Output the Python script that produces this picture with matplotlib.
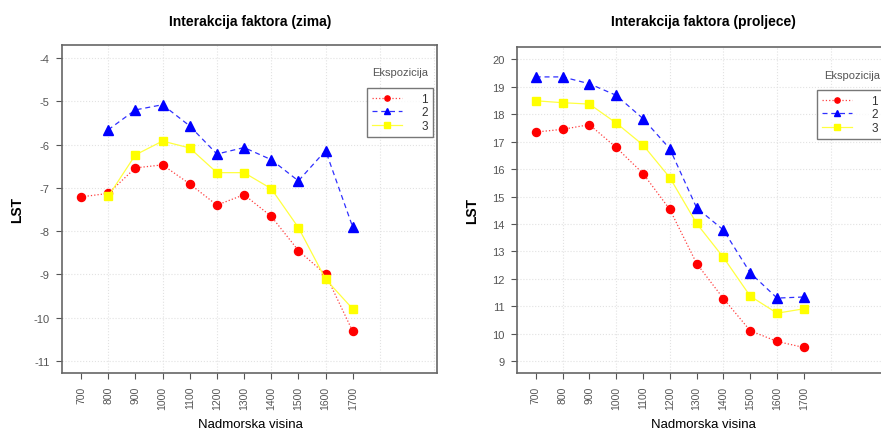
import matplotlib.pyplot as plt

plt.rcParams['font.family'] = ['Liberation Sans', 'DejaVu Sans']

visina = [700, 800, 900, 1000, 1100, 1200, 1300, 1400, 1500, 1600, 1700]

# zima
zima_1 = [-7.21, -7.13, -6.54, -6.47, -6.91, -7.40, -7.16, -7.66, -8.45, -9.00, -10.32]
zima_2 = [None, -5.66, -5.20, -5.08, -5.57, -6.22, -6.07, -6.35, -6.84, -6.14, -7.91]
zima_3 = [None, -7.20, -6.24, -5.92, -6.08, -6.65, -6.65, -7.02, -7.92, -9.11, -9.80]

# proljece
proljece_1 = [17.35, 17.45, 17.62, 16.79, 15.84, 14.53, 12.56, 11.28, 10.11, 9.72, 9.50]
proljece_2 = [19.36, 19.36, 19.11, 18.69, 17.84, 16.74, 14.59, 13.78, 12.22, 11.30, 11.34]
proljece_3 = [18.49, 18.42, 18.37, 17.68, 16.88, 15.69, 14.02, 12.78, 11.37, 10.75, 10.91]

grid_x = [800, 1000, 1200, 1400, 1600, 1800, 2000]

W, H = 881, 431
fig = plt.figure(figsize=(W / 100, H / 100), dpi=100)


def fx(px):
    return px / W


def fy(py):
    return 1 - py / H


def panel(rect, title, s1, s2, s3, yticks, ylim, title_x, ylab_x, leg_title_xy, leg_box):
    ax = fig.add_axes([fx(rect[0]), fy(rect[3]), (rect[2] - rect[0]) / W, (rect[3] - rect[1]) / H])
    ax.set_xlim(630, 2010)
    ax.set_ylim(*ylim)
    for gx in grid_x:
        ax.axvline(gx, color='#e2e2e2', lw=0.8, ls=':', zorder=0)
    for gy in yticks:
        ax.axhline(gy, color='#e2e2e2', lw=0.8, ls=':', zorder=0)

    def xy(s):
        return [x for x, v in zip(visina, s) if v is not None], [v for v in s if v is not None]

    l1, = ax.plot(*xy(s1), color='#ff4040', ls=':', lw=0.9, marker='o', ms=5.8,
                  mfc='red', mec='red', label='1')
    l2, = ax.plot(*xy(s2), color='#3030ff', ls=(0, (4, 3)), lw=0.9, marker='^', ms=6.5,
                  mfc='blue', mec='blue', label='2')
    l3, = ax.plot(*xy(s3), color='#ffff40', ls='-', lw=0.9, marker='s', ms=5.8,
                  mfc='#ffff00', mec='#ffff00', label='3')

    ax.set_xticks(visina)
    ax.set_xticklabels([str(v) for v in visina], rotation=90, color='#555555', fontsize=7.5)
    ax.set_yticks(yticks)
    ax.set_yticklabels([str(v) for v in yticks], color='#555555', fontsize=8)
    ax.tick_params(axis='both', length=4, color='#555555', width=0.8, pad=5)
    for sp in ax.spines.values():
        sp.set_color('#666666')
        sp.set_linewidth(1.2)

    cx = (rect[0] + min(rect[2], 437 + 455)) / 2
    fig.text(fx(title_x), fy(22), title, fontsize=10, fontweight='bold',
             ha='center', va='center')
    fig.text(fx(title_x), fy(425), 'Nadmorska visina', fontsize=9.5,
             ha='center', va='center')
    fig.text(fx(ylab_x), fy((rect[1] + rect[3]) / 2), 'LST', fontsize=10,
             fontweight='bold', rotation=90, ha='center', va='center')

    fig.text(fx(leg_title_xy[0]), fy(leg_title_xy[1]), 'Ekspozicija',
             fontsize=8, color='#555555', ha='center', va='center')
    leg = ax.legend(handles=[l1, l2, l3], loc='upper left',
                    bbox_to_anchor=(fx(leg_box[0]), fy(leg_box[1])),
                    bbox_transform=fig.transFigure, fontsize=8.5, frameon=True,
                    fancybox=False, edgecolor='#555555', markerscale=0.65,
                    handlelength=2.6, handletextpad=1.6, borderpad=0.4,
                    labelspacing=0.15, borderaxespad=0)
    leg.get_frame().set_linewidth(1.0)
    for t in leg.get_texts():
        t.set_color('#333333')
    return ax


ax1 = panel((62, 46, 437, 374), 'Interakcija faktora (zima)', zima_1, zima_2, zima_3,
            [-4, -5, -6, -7, -8, -9, -10, -11], (-11.28, -3.7), 250, 17, (400, 73), (367, 89))
ax2 = panel((517, 48, 887, 374), 'Interakcija faktora (proljece)', proljece_1, proljece_2, proljece_3,
            list(range(9, 21)), (8.57, 20.45), 703, 472, (852, 76), (817, 91))

fig.savefig('out.png', dpi=100)
